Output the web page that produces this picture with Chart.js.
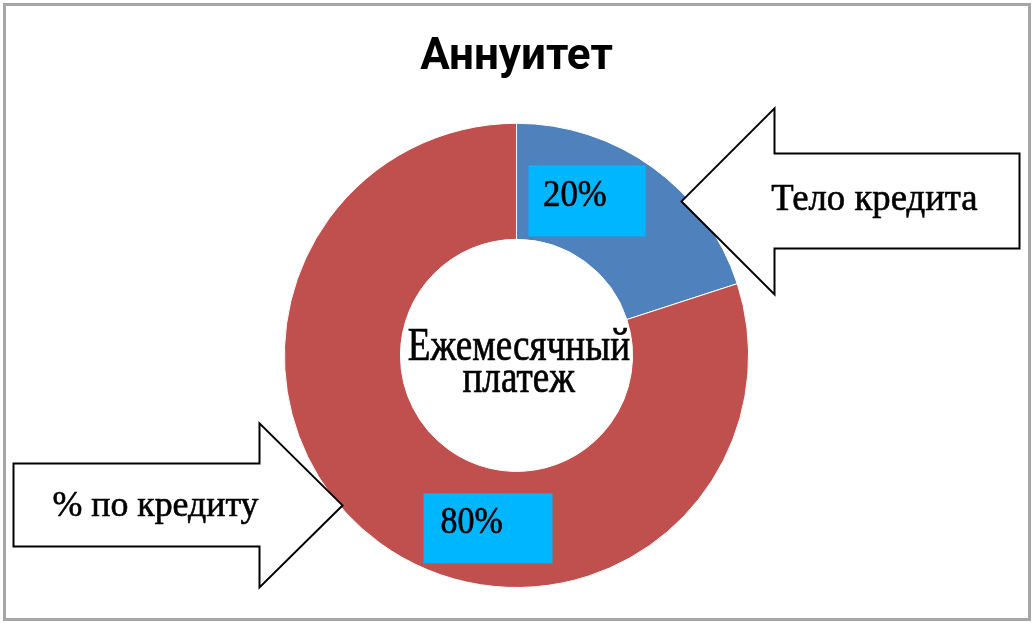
<!DOCTYPE html>
<html>
<head>
<meta charset="utf-8">
<script src="https://cdn.jsdelivr.net/npm/chart.js@4/dist/chart.umd.min.js"></script>
<style>
  html, body { margin: 0; padding: 0; background: #ffffff; }
  #wrap { width: 1033px; height: 623px; position: relative; }
</style>
</head>
<body>
<div id="wrap"><canvas id="c" width="1033" height="623"></canvas></div>
<script>
// ---- data ----
const titleText = 'Аннуитет';
const categories = ['Тело кредита', '% по кредиту'];
const values = [20, 80];
const valueLabels = ['20%', '80%'];
const sliceColors = ['#4F81BD', '#C0504D'];
const centerLines = ['Ежемесячный', 'платеж'];

// ---- layout / styling (offsets from the doughnut centre, px) ----
const SERIF = '"Liberation Serif", "Times New Roman", serif';
const TEXT_WEIGHT_STROKE = 0.6;
const labelBoxStyle = {
  fill: '#00B7FF',
  boxes: [
    { x0: 12, x1: 129, y0: -190, y1: -119, tx0: 28, tx1: 89, ttop: -174, tbase: -149 },
    { x0: -93, x1: 36, y0: 138, y1: 208, tx0: -75, tx1: -15, ttop: 153, tbase: 178 }
  ]
};
const calloutStyle = [
  // arrow pointing left, toward the first slice
  { tip: [165, -154], headX: 258, headTop: -247, headBot: -61, shaftTop: -202, shaftBot: -107, endX: 503,
    text: { x0: 255, x1: 461, top: -170, base: -145 } },
  // arrow pointing right, toward the second slice
  { tip: [-174, 150], headX: -257, headTop: 68, headBot: 232, shaftTop: 108, shaftBot: 191, endX: -503,
    text: { x0: -463, x1: -258, top: 137, base: 161 } }
];
const centerTextStyle = { x0: -108, x1: 113, top: -27, base: 5, lineGap: 32 };

function drawScaled(ctx, text, x, base, sx, sy, offset) {
  ctx.save();
  ctx.translate(x, base);
  ctx.scale(sx, sy);
  ctx.textBaseline = 'alphabetic';
  ctx.textAlign = 'left';
  ctx.fillStyle = '#000';
  ctx.strokeStyle = '#000';
  ctx.lineWidth = TEXT_WEIGHT_STROKE / Math.min(sx, sy);
  ctx.fillText(text, offset, 0);
  ctx.strokeText(text, offset, 0);
  ctx.restore();
}

function fitText(ctx, text, family, weight, x0, x1, top, base) {
  ctx.save();
  ctx.font = weight + ' 100px ' + family;
  const m = ctx.measureText(text);
  const w = m.actualBoundingBoxLeft + m.actualBoundingBoxRight;
  const h = m.actualBoundingBoxAscent;
  const sx = (x1 - x0) / w;
  const sy = (base - top) / h;
  drawScaled(ctx, text, x0, base, sx, sy, m.actualBoundingBoxLeft);
  ctx.restore();
  return { sx: sx, sy: sy };
}

const decorPlugin = {
  id: 'decor',
  beforeDraw(chart) {
    const ctx = chart.ctx;
    ctx.save();
    ctx.fillStyle = '#fff';
    ctx.fillRect(0, 0, chart.width, chart.height);
    ctx.strokeStyle = '#A6A6A6';
    ctx.lineWidth = 3;
    ctx.strokeRect(4.5, 4.5, chart.width - 8, chart.height - 8);
    ctx.restore();
  },
  afterDraw(chart) {
    const ctx = chart.ctx;
    const arc = chart.getDatasetMeta(0).data[0];
    const cx = arc.x, cy = arc.y;

    // value label boxes
    labelBoxStyle.boxes.forEach((b, i) => {
      ctx.save();
      ctx.fillStyle = labelBoxStyle.fill;
      ctx.fillRect(cx + b.x0, cy + b.y0, b.x1 - b.x0, b.y1 - b.y0);
      ctx.restore();
      fitText(ctx, valueLabels[i], SERIF, 'normal', cx + b.tx0, cx + b.tx1, cy + b.ttop, cy + b.tbase);
    });

    // callout arrows with category names
    calloutStyle.forEach((a, i) => {
      ctx.save();
      ctx.beginPath();
      ctx.moveTo(cx + a.tip[0], cy + a.tip[1]);
      ctx.lineTo(cx + a.headX, cy + a.headTop);
      ctx.lineTo(cx + a.headX, cy + a.shaftTop);
      ctx.lineTo(cx + a.endX, cy + a.shaftTop);
      ctx.lineTo(cx + a.endX, cy + a.shaftBot);
      ctx.lineTo(cx + a.headX, cy + a.shaftBot);
      ctx.lineTo(cx + a.headX, cy + a.headBot);
      ctx.closePath();
      ctx.fillStyle = '#fff';
      ctx.fill();
      ctx.strokeStyle = '#000';
      ctx.lineWidth = 2;
      ctx.lineJoin = 'miter';
      ctx.stroke();
      ctx.restore();
      const t = a.text;
      fitText(ctx, categories[i], SERIF, 'normal', cx + t.x0, cx + t.x1, cy + t.top, cy + t.base);
    });

    // centre text
    const s = centerTextStyle;
    const sc = fitText(ctx, centerLines[0], SERIF, 'normal', cx + s.x0, cx + s.x1, cy + s.top, cy + s.base);
    ctx.save();
    ctx.font = 'normal 100px ' + SERIF;
    const m2 = ctx.measureText(centerLines[1]);
    ctx.restore();
    const w2 = (m2.actualBoundingBoxLeft + m2.actualBoundingBoxRight) * sc.sx;
    const midX = cx + (s.x0 + s.x1) / 2;
    ctx.save();
    ctx.font = 'normal 100px ' + SERIF;
    drawScaled(ctx, centerLines[1], midX - w2 / 2, cy + s.base + s.lineGap, sc.sx, sc.sy, m2.actualBoundingBoxLeft);
    ctx.restore();
  }
};

new Chart(document.getElementById('c'), {
  type: 'doughnut',
  data: {
    labels: categories,
    datasets: [{
      data: values,
      backgroundColor: sliceColors,
      borderColor: '#ffffff',
      borderWidth: 1,
      hoverOffset: 0
    }]
  },
  options: {
    responsive: false,
    animation: false,
    cutout: '50%',
    rotation: 0,
    layout: { padding: { top: 0, bottom: 35, left: 0, right: 0 } },
    plugins: {
      legend: { display: false },
      tooltip: { enabled: false },
      title: {
        display: true,
        text: titleText,
        color: '#000',
        font: { family: 'Roboto, "Liberation Sans", sans-serif', size: 44, weight: 'bold', lineHeight: 1.2 },
        padding: { top: 32, bottom: 38 }
      }
    }
  },
  plugins: [decorPlugin]
});
</script>
</body>
</html>
